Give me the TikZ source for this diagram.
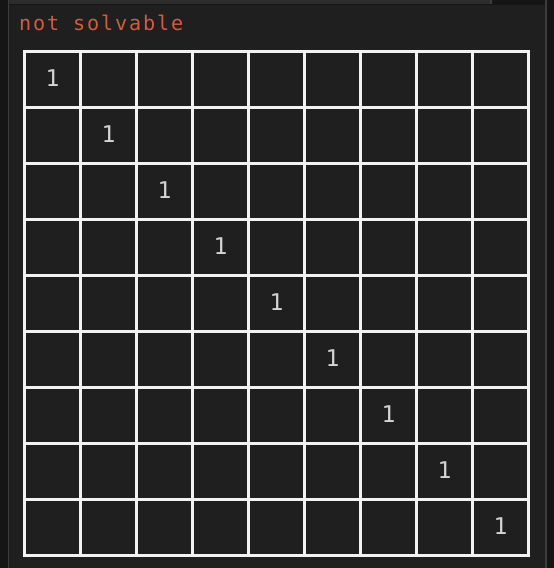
\documentclass[tikz,border=0pt]{standalone}
\usepackage{fontspec}
\newfontfamily\cellfont{DejaVu Sans Mono}
\newfontfamily\msgfont[LetterSpace=9]{DejaVu Sans Mono}
\definecolor{panel}{RGB}{31,31,31}
\definecolor{edge}{RGB}{21,21,21}
\definecolor{rim}{RGB}{60,60,60}
\definecolor{tabbar}{RGB}{44,44,44}
\definecolor{msg}{RGB}{214,90,60}
\definecolor{digit}{RGB}{212,212,212}

\begin{document}
\begin{tikzpicture}[x=1pt, y=-1pt, line width=2.2pt,
    val/.style={anchor=base, inner sep=0pt, text=digit, font=\cellfont\fontsize{23}{23}\selectfont},
    gridline/.style={draw=white!95!black}]
    \useasboundingbox (0,0) rectangle (554,568);
    % window frame
    \fill[edge] (0,0) rectangle (554,568);
    \fill[panel] (9,5) rectangle (545,568);
    \fill[tabbar] (9,0) rectangle (490,3.5);
    \fill[rim] (490,0) rectangle (491.5,3.5);
    \fill[rim] (7.5,0) rectangle (9,568);
    \fill[rim] (545,0) rectangle (546.5,568);
    \node [anchor=base west, inner sep=0pt, text=msg, font=\msgfont\fontsize{20.2}{20.2}\selectfont] (msg) at (18,30.7) {not solvable};
    % board
    \foreach \k in {0,...,9} {
      \draw [gridline, line cap=rect] (24.5+56*\k, 51.5) -- (24.5+56*\k, 555.5);
      \draw [gridline, line cap=rect] (24.5, 51.5+56*\k) -- (528.5, 51.5+56*\k);
    }
    \node [val] (0) at (52.5, 86.7) {1};
    \node [val] (1) at (108.5, 142.7) {1};
    \node [val] (2) at (164.5, 198.7) {1};
    \node [val] (3) at (220.5, 254.7) {1};
    \node [val] (4) at (276.5, 310.7) {1};
    \node [val] (5) at (332.5, 366.7) {1};
    \node [val] (6) at (388.5, 422.7) {1};
    \node [val] (7) at (444.5, 478.7) {1};
    \node [val] (8) at (500.5, 534.7) {1};
  \end{tikzpicture}
\end{document}
